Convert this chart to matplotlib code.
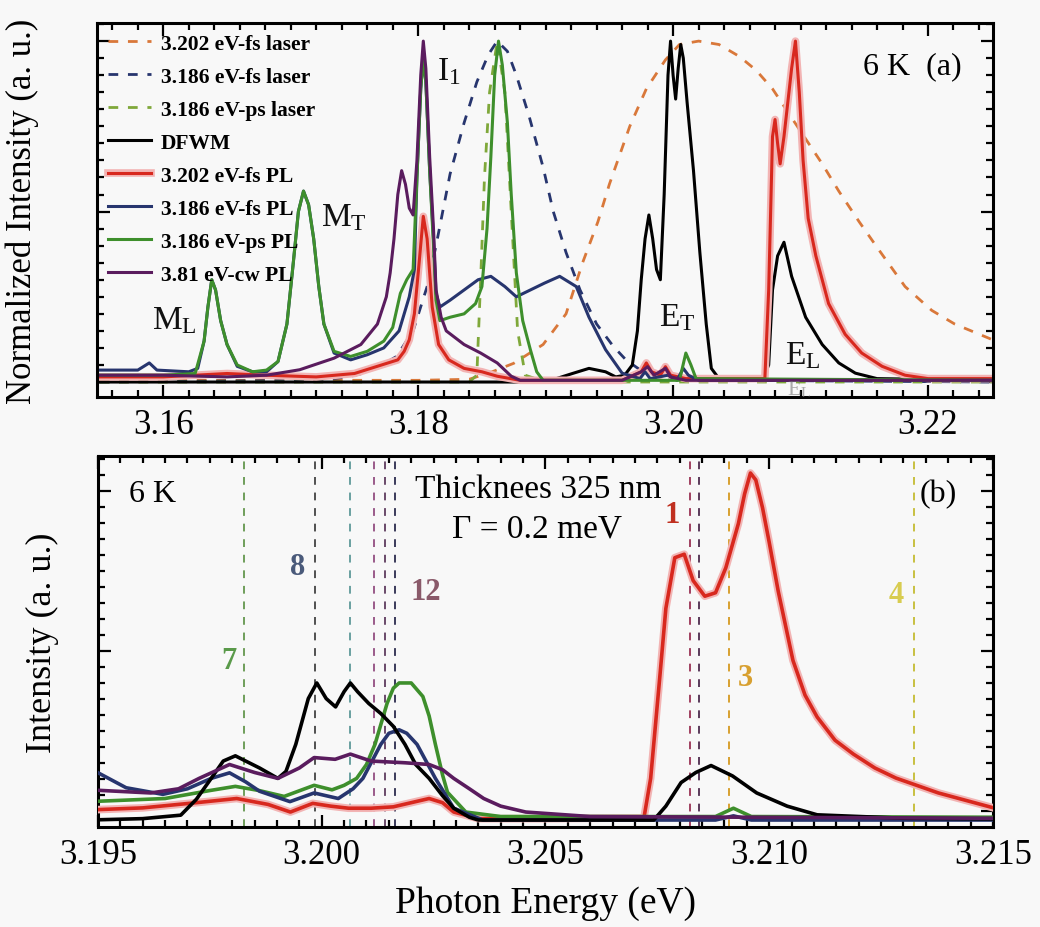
import matplotlib
matplotlib.use("Agg")
import matplotlib.pyplot as plt
import matplotlib.patheffects as pe
from matplotlib.ticker import MultipleLocator, FormatStrFormatter

plt.rcParams['font.family'] = ['Liberation Serif', 'DejaVu Serif']
plt.rcParams['mathtext.fontset'] = 'custom'
plt.rcParams['mathtext.rm'] = 'Liberation Serif'
plt.rcParams['mathtext.it'] = 'Liberation Serif'

# ---------------- panel (a) data ----------------
laser_3202_fs_E = [3.155, 3.170, 3.180, 3.1840, 3.1858, 3.1875, 3.1898, 3.1916, 3.1929, 3.1941, 3.1950,
                   3.1966, 3.1979, 3.1994, 3.2005, 3.2020, 3.2036, 3.2052, 3.2065, 3.2078, 3.2101,
                   3.2117, 3.2130, 3.2146, 3.2161, 3.2182, 3.2203, 3.2221, 3.2250]
laser_3202_fs_I = [0.005, 0.005, 0.005, 0.008, 0.03, 0.055, 0.11, 0.20, 0.35, 0.47, 0.58,
                   0.75, 0.86, 0.945, 0.99, 1.0, 0.99, 0.955, 0.915, 0.86, 0.73,
                   0.64, 0.56, 0.47, 0.39, 0.28, 0.21, 0.17, 0.125]

laser_3186_fs_E = [3.155, 3.172, 3.1745, 3.1757, 3.1770, 3.1783, 3.1796, 3.1807, 3.1814, 3.1825, 3.1836,
                   3.1846, 3.1855, 3.1862, 3.1870, 3.1877, 3.1887, 3.1898, 3.1906, 3.1916, 3.1927,
                   3.1940, 3.1953, 3.1963, 3.1974, 3.1990, 3.205, 3.225]
laser_3186_fs_I = [0.0, 0.005, 0.015, 0.026, 0.046, 0.075, 0.15, 0.28, 0.40, 0.61, 0.76,
                   0.88, 0.96, 1.0, 0.97, 0.90, 0.78, 0.63, 0.50, 0.38, 0.27,
                   0.17, 0.105, 0.065, 0.036, 0.015, 0.005, 0.0]

laser_3186_ps_E = [3.155, 3.1840, 3.1846, 3.1849, 3.1852, 3.1856, 3.1862, 3.1868, 3.1873, 3.1878, 3.1884, 3.190, 3.225]
laser_3186_ps_I = [0.0, 0.0, 0.02, 0.3, 0.6, 0.85, 1.0, 0.85, 0.5, 0.15, 0.02, 0.0, 0.0]

dfwm_a_E = [3.155, 3.190, 3.1921, 3.1934, 3.1947, 3.1955, 3.1962, 3.1968, 3.1972, 3.1975, 3.1978, 3.1981,
            3.1984, 3.1987, 3.1990, 3.1993, 3.1996, 3.1998, 3.2000, 3.2002, 3.2004, 3.2006, 3.2008,
            3.2011, 3.2016, 3.2021, 3.2026, 3.2030, 3.2036, 3.2050, 3.2070, 3.2075, 3.2078, 3.2082,
            3.2087, 3.2093, 3.2104, 3.2117, 3.2130, 3.2143, 3.2160, 3.225]
dfwm_a_I = [0.0, 0.0, 0.025, 0.04, 0.03, 0.015, 0.02, 0.05, 0.15, 0.30, 0.42, 0.49,
            0.42, 0.33, 0.30, 0.55, 0.90, 1.0, 0.90, 0.83, 0.92, 0.99, 0.95,
            0.82, 0.62, 0.38, 0.17, 0.04, 0.01, 0.005, 0.005, 0.05, 0.27, 0.37,
            0.41, 0.31, 0.19, 0.11, 0.056, 0.026, 0.01, 0.005]

pl_3202_fs_a_E = [3.155, 3.160, 3.1625, 3.165, 3.168, 3.172, 3.175, 3.1784, 3.1789, 3.1793, 3.1797, 3.1800,
                  3.1804, 3.1807, 3.1811, 3.1816, 3.1824, 3.1836, 3.1850, 3.1862, 3.1880, 3.1960,
                  3.1975, 3.1979, 3.1983, 3.1990, 3.1994, 3.1998, 3.2010, 3.2072, 3.2075, 3.2078,
                  3.2080, 3.2082, 3.2084, 3.2087, 3.2090, 3.2093, 3.2096, 3.2099, 3.2102, 3.2106,
                  3.2112, 3.2122, 3.2135, 3.2148, 3.2164, 3.2182, 3.2200, 3.225]
pl_3202_fs_a_I = [0.015, 0.015, 0.02, 0.025, 0.02, 0.015, 0.025, 0.065, 0.09, 0.124, 0.20, 0.32,
                  0.486, 0.42, 0.22, 0.11, 0.065, 0.04, 0.03, 0.017, 0.005, 0.005,
                  0.03, 0.056, 0.03, 0.02, 0.045, 0.02, 0.01, 0.01, 0.27, 0.72,
                  0.77, 0.70, 0.64, 0.72, 0.82, 0.92, 1.0, 0.85, 0.65, 0.48,
                  0.37, 0.23, 0.14, 0.085, 0.046, 0.02, 0.01, 0.01]

pl_3186_fs_a_E = [3.155, 3.158, 3.1589, 3.1595, 3.1620, 3.1627, 3.1632, 3.1635, 3.1638, 3.1641, 3.1645,
                  3.1650, 3.1658, 3.1670, 3.1681, 3.1690, 3.1697, 3.1702, 3.1706, 3.1710, 3.1714,
                  3.1718, 3.1722, 3.1726, 3.1734, 3.1747, 3.1760, 3.1773, 3.1785, 3.1793, 3.1797,
                  3.1799, 3.1802, 3.1804, 3.1806, 3.1809, 3.1812, 3.1814, 3.1817, 3.1825, 3.1836,
                  3.1847, 3.1857, 3.1868, 3.1877, 3.1888, 3.1899, 3.1911, 3.1924, 3.1934, 3.1947,
                  3.1960, 3.1974, 3.1978, 3.1982, 3.1996, 3.2003, 3.2008, 3.2012, 3.2020, 3.225]
pl_3186_fs_a_I = [0.035, 0.035, 0.056, 0.035, 0.03, 0.04, 0.12, 0.22, 0.30, 0.27, 0.18,
                  0.11, 0.046, 0.03, 0.03, 0.06, 0.17, 0.35, 0.50, 0.56, 0.52,
                  0.42, 0.28, 0.17, 0.085, 0.065, 0.08, 0.10, 0.15, 0.25, 0.33,
                  0.60, 0.86, 0.95, 0.88, 0.62, 0.42, 0.26, 0.22, 0.24, 0.27,
                  0.30, 0.31, 0.28, 0.25, 0.27, 0.29, 0.31, 0.28, 0.19, 0.095,
                  0.026, 0.01, 0.03, 0.01, 0.02, 0.005, 0.04, 0.02, 0.005, 0.005]

pl_3186_ps_a_E = [3.155, 3.160, 3.1625, 3.1632, 3.1635, 3.1638, 3.1641, 3.1645, 3.1650, 3.1658, 3.1670,
                  3.1681, 3.1690, 3.1697, 3.1702, 3.1706, 3.1710, 3.1714, 3.1718, 3.1722, 3.1726,
                  3.1734, 3.1747, 3.1760, 3.1773, 3.1780, 3.1786, 3.1791, 3.1796, 3.1799, 3.1802,
                  3.1804, 3.1806, 3.1809, 3.1812, 3.1814, 3.1817, 3.1825, 3.1836, 3.1845, 3.1850,
                  3.1854, 3.1857, 3.1860, 3.1863, 3.1866, 3.1870, 3.1873, 3.1877, 3.1882, 3.1888,
                  3.1893, 3.1898, 3.2005, 3.2010, 3.2014, 3.2018, 3.225]
pl_3186_ps_a_I = [0.02, 0.02, 0.025, 0.12, 0.22, 0.30, 0.27, 0.18, 0.11, 0.05, 0.03,
                  0.035, 0.06, 0.17, 0.35, 0.50, 0.56, 0.52, 0.42, 0.28, 0.17,
                  0.09, 0.075, 0.09, 0.12, 0.16, 0.26, 0.30, 0.33, 0.60, 0.86,
                  0.95, 0.88, 0.62, 0.40, 0.24, 0.18, 0.19, 0.20, 0.23, 0.28,
                  0.45, 0.66, 0.90, 1.0, 0.93, 0.76, 0.55, 0.32, 0.18, 0.095,
                  0.03, 0.005, 0.005, 0.085, 0.05, 0.01, 0.005]

pl_381_cw_a_E = [3.155, 3.160, 3.165, 3.1681, 3.1707, 3.1734, 3.1755, 3.1768, 3.1775, 3.1778, 3.1781,
                 3.1784, 3.1787, 3.1790, 3.1793, 3.1796, 3.1799, 3.1802, 3.1804, 3.1806, 3.1809,
                 3.1812, 3.1814, 3.1818, 3.1822, 3.1836, 3.1849, 3.1862, 3.1873, 3.1880, 3.1960,
                 3.1975, 3.1980, 3.1985, 3.1994, 3.1998, 3.2010, 3.225]
pl_381_cw_a_I = [0.02, 0.02, 0.015, 0.02, 0.036, 0.07, 0.11, 0.17, 0.25, 0.32, 0.42,
                 0.55, 0.62, 0.58, 0.51, 0.49, 0.65, 0.90, 1.0, 0.92, 0.66,
                 0.45, 0.27, 0.19, 0.15, 0.11, 0.085, 0.056, 0.017, 0.005, 0.005,
                 0.03, 0.045, 0.02, 0.04, 0.015, 0.005, 0.005]

legend_labels = ["3.202 eV-fs laser", "3.186 eV-fs laser", "3.186 eV-ps laser", "DFWM",
                 "3.202 eV-fs PL", "3.186 eV-fs PL", "3.186 eV-ps PL", "3.81 eV-cw PL"]

peak_labels = [r'M$_\mathrm{L}$', r'M$_\mathrm{T}$', r'I$_\mathrm{1}$', r'E$_\mathrm{T}$', r'E$_\mathrm{L}$']
peak_label_E = [3.1591, 3.1724, 3.18145, 3.1989, 3.2088]
peak_label_I = [0.158, 0.46, 0.888, 0.167, 0.056]

# ---------------- panel (b) data ----------------
pl_3202_fs_b_E = [3.1948, 3.1960, 3.1972, 3.1981, 3.1988, 3.1993, 3.1998, 3.2002, 3.2006, 3.2011,
                  3.2016, 3.2020, 3.2024, 3.2027, 3.20295, 3.2035, 3.2050, 3.2072, 3.20735, 3.20756,
                  3.20769, 3.20789, 3.2081, 3.2083, 3.20856, 3.2088, 3.20903, 3.20931, 3.20945, 3.20958,
                  3.2097, 3.20985, 3.2100, 3.2102, 3.21053, 3.2108, 3.21107, 3.21147, 3.21188, 3.21236,
                  3.21283, 3.21378, 3.21507]
pl_3202_fs_b_I = [0.029, 0.035, 0.05, 0.062, 0.045, 0.023, 0.048, 0.04, 0.034, 0.034,
                  0.038, 0.05, 0.062, 0.05, 0.023, 0.004, 0.004, 0.006, 0.12, 0.42,
                  0.61, 0.756, 0.766, 0.69, 0.645, 0.655, 0.727, 0.854, 0.94, 1.0,
                  0.98, 0.90, 0.80, 0.66, 0.46, 0.36, 0.297, 0.23, 0.19, 0.15,
                  0.121, 0.078, 0.033]

dfwm_b_E = [3.1948, 3.1960, 3.19685, 3.1972, 3.19753, 3.1978, 3.19807, 3.1983, 3.19861, 3.19902,
            3.1992, 3.19942, 3.1997, 3.19989, 3.2001, 3.20031, 3.2005, 3.20064, 3.2008, 3.20105,
            3.20132, 3.2016, 3.20186, 3.2021, 3.2024, 3.2027, 3.20295, 3.2033, 3.2035, 3.20742,
            3.20769, 3.20803, 3.20836, 3.2087, 3.20918, 3.20972, 3.2104, 3.21107, 3.2130, 3.2151]
dfwm_b_I = [0.0, 0.004, 0.014, 0.06, 0.12, 0.17, 0.185, 0.17, 0.15, 0.12,
            0.14, 0.218, 0.35, 0.395, 0.35, 0.326, 0.37, 0.395, 0.37, 0.336,
            0.307, 0.27, 0.218, 0.16, 0.12, 0.07, 0.034, 0.008, 0.0, 0.0,
            0.04, 0.108, 0.137, 0.157, 0.127, 0.078, 0.04, 0.015, 0.005, 0.003]

pl_3186_ps_b_E = [3.1948, 3.1965, 3.1975, 3.19807, 3.1986, 3.19916, 3.19983, 3.20023, 3.2005, 3.20078,
                  3.2010, 3.20119, 3.20146, 3.2016, 3.20173, 3.2020, 3.20226, 3.2024, 3.20254, 3.2027,
                  3.20281, 3.20322, 3.2040, 3.2088, 3.2092, 3.2096, 3.2151]
pl_3186_ps_b_I = [0.053, 0.062, 0.085, 0.097, 0.085, 0.068, 0.10, 0.087, 0.10, 0.12,
                  0.16, 0.218, 0.336, 0.38, 0.395, 0.395, 0.356, 0.30, 0.218, 0.13,
                  0.08, 0.023, 0.01, 0.01, 0.034, 0.01, 0.008]

pl_3186_fs_b_E = [3.1948, 3.19563, 3.19645, 3.1970, 3.19753, 3.19794, 3.1983, 3.19861, 3.19929, 3.19983,
                  3.20037, 3.2007, 3.20092, 3.20132, 3.2015, 3.20173, 3.2019, 3.20213, 3.20254, 3.20295,
                  3.2036, 3.2088, 3.2092, 3.2096, 3.2151]
pl_3186_fs_b_I = [0.15, 0.093, 0.074, 0.09, 0.12, 0.136, 0.11, 0.083, 0.053, 0.078,
                  0.062, 0.09, 0.12, 0.218, 0.25, 0.26, 0.25, 0.218, 0.12, 0.034,
                  0.0, 0.0, 0.012, 0.0, 0.0]

pl_381_cw_b_E = [3.1948, 3.19618, 3.1968, 3.19726, 3.19794, 3.1985, 3.19902, 3.1995, 3.19983, 3.2003,
                 3.20064, 3.2011, 3.20186, 3.2024, 3.2027, 3.20295, 3.2033, 3.20362, 3.2040, 3.20456,
                 3.2060, 3.2151]
pl_381_cw_b_I = [0.087, 0.078, 0.09, 0.12, 0.16, 0.137, 0.12, 0.15, 0.18, 0.175,
                 0.19, 0.17, 0.165, 0.16, 0.145, 0.12, 0.09, 0.062, 0.04, 0.023,
                 0.01, 0.005]

mode_lines_E = [3.19827, 3.19986, 3.20064, 3.20116, 3.20141, 3.20164, 3.20823, 3.20843, 3.20911, 3.21323]
mode_lines_color = ['#6f9e5a', '#505050', '#6aa0a0', '#9a5a8a', '#6a4a6a', '#3a3a5a',
                    '#a04060', '#5a3a5a', '#d8a030', '#c8c040']
mode_labels = ["7", "8", "12", "1", "3", "4"]
mode_label_E = [3.19793, 3.19947, 3.20233, 3.20783, 3.20946, 3.21283]
mode_label_I = [0.46, 0.73, 0.66, 0.88, 0.41, 0.65]
mode_label_color = ['#5a9a4a', '#4a5a7a', '#8a5a6a', '#c03020', '#d8a030', '#d8cc50']

# ---------------- figure ----------------
BG = '#f8f8f8'
fig = plt.figure(figsize=(10.4, 9.28), dpi=100, facecolor=BG)
axa = fig.add_axes([0.0933, 0.5711, 0.8615, 0.4030], facecolor=BG)
axb = fig.add_axes([0.0942, 0.1078, 0.8606, 0.3997], facecolor=BG)

c_orange = '#d9783a'
c_navy = '#27356e'
c_lgreen = '#7fa83a'
c_red = '#d8281e'
c_green = '#3e8f2c'
c_purple = '#5a1c5e'
halo = [pe.Stroke(linewidth=5.5, foreground='#f2b4b4'), pe.Normal()]

lw = 2.2
axa.plot(laser_3202_fs_E, laser_3202_fs_I, color=c_orange, lw=2.0, ls=(0, (3.5, 3.5)), label=legend_labels[0])
axa.plot(laser_3186_fs_E, laser_3186_fs_I, color=c_navy, lw=2.0, ls=(0, (3.5, 3.5)), label=legend_labels[1])
axa.plot(laser_3186_ps_E, laser_3186_ps_I, color=c_lgreen, lw=2.0, ls=(0, (3.5, 3.5)), label=legend_labels[2])
axa.plot(dfwm_a_E, dfwm_a_I, color='black', lw=lw, label=legend_labels[3])
axa.plot(pl_3202_fs_a_E, pl_3202_fs_a_I, color=c_red, lw=lw, path_effects=halo, label=legend_labels[4])
axa.plot(pl_3186_fs_a_E, pl_3186_fs_a_I, color=c_navy, lw=lw, label=legend_labels[5])
axa.plot(pl_3186_ps_a_E, pl_3186_ps_a_I, color=c_green, lw=lw, label=legend_labels[6])
axa.plot(pl_381_cw_a_E, pl_381_cw_a_I, color=c_purple, lw=lw, label=legend_labels[7])

axa.set_xlim(3.1548, 3.2251)
axa.set_ylim(-0.044, 1.053)
leg = axa.legend(loc='upper left', bbox_to_anchor=(0.0, 1.0), borderaxespad=0.0, borderpad=0.5,
                 frameon=False, handlelength=2.0, handletextpad=0.45, labelspacing=0.6,
                 prop={'family': 'Liberation Serif', 'weight': 'bold', 'size': 15.5})

for lab, e, v in zip(peak_labels, peak_label_E, peak_label_I):
    axa.text(e, v, lab, fontsize=24, color='#111111', ha='left', va='baseline')
axa.text(3.2089, -0.035, r'E$_\mathrm{L}$', fontsize=16, color='#777777', ha='left', va='baseline',
         alpha=0.6, clip_on=True)
axa.text(0.965, 0.885, '6 K  (a)', transform=axa.transAxes, ha='right', va='center', fontsize=23)

# panel (b)
for e, c in zip(mode_lines_E, mode_lines_color):
    axb.axvline(e, color=c, lw=1.4, ls=(0, (4, 4)), zorder=1)
axb.plot(pl_3202_fs_b_E, pl_3202_fs_b_I, color=c_red, lw=2.6, path_effects=halo, zorder=3)
axb.plot(pl_3186_ps_b_E, pl_3186_ps_b_I, color=c_green, lw=2.6, zorder=3)
axb.plot(pl_3186_fs_b_E, pl_3186_fs_b_I, color=c_navy, lw=2.6, zorder=3)
axb.plot(dfwm_b_E, dfwm_b_I, color='black', lw=2.6, zorder=3)
axb.plot(pl_381_cw_b_E, pl_381_cw_b_I, color=c_purple, lw=2.6, zorder=3)
for lab, e, v, c in zip(mode_labels, mode_label_E, mode_label_I, mode_label_color):
    axb.text(e, v, lab, color=c, fontsize=22, fontweight='bold', ha='center', va='center')
axb.text(3.20483, 0.955, 'Thicknees 325 nm', ha='center', va='center', fontsize=24)
axb.text(3.2048, 0.84, 'Γ = 0.2 meV', ha='center', va='center', fontsize=24)
axb.text(0.035, 0.9, '6 K', transform=axb.transAxes, ha='left', va='center', fontsize=23)
axb.text(0.96, 0.9, '(b)', transform=axb.transAxes, ha='right', va='center', fontsize=23)
axb.set_xlim(3.195, 3.215)
axb.set_ylim(-0.02, 1.049)

for ax in (axa, axb):
    for s in ax.spines.values():
        s.set_linewidth(2.2)
    ax.tick_params(which='both', direction='in', top=True, right=True, width=1.6, labelsize=25, pad=8)
    ax.tick_params(which='major', length=9)
    ax.tick_params(which='minor', length=5)
    ax.tick_params(axis='y', labelleft=False)

axa.xaxis.set_major_locator(MultipleLocator(0.02))
axa.xaxis.set_minor_locator(MultipleLocator(0.002))
axa.xaxis.set_major_formatter(FormatStrFormatter('%.2f'))
axa.yaxis.set_major_locator(MultipleLocator(0.5))
axa.yaxis.set_minor_locator(MultipleLocator(0.05))
axb.xaxis.set_major_locator(MultipleLocator(0.005))
axb.xaxis.set_minor_locator(MultipleLocator(0.0005))
axb.xaxis.set_major_formatter(FormatStrFormatter('%.3f'))
axb.yaxis.set_major_locator(MultipleLocator(0.461, offset=0.026))
axb.yaxis.set_minor_locator(MultipleLocator(0.0461, offset=0.026))

axa.set_ylabel('Normalized Intensity (a. u.)', fontsize=25, labelpad=34)
axb.set_ylabel('Intensity (a. u.)', fontsize=26, labelpad=20)
axb.set_xlabel('Photon Energy (eV)', fontsize=27, labelpad=10)

fig.savefig('out.png', dpi=100, facecolor=BG)
